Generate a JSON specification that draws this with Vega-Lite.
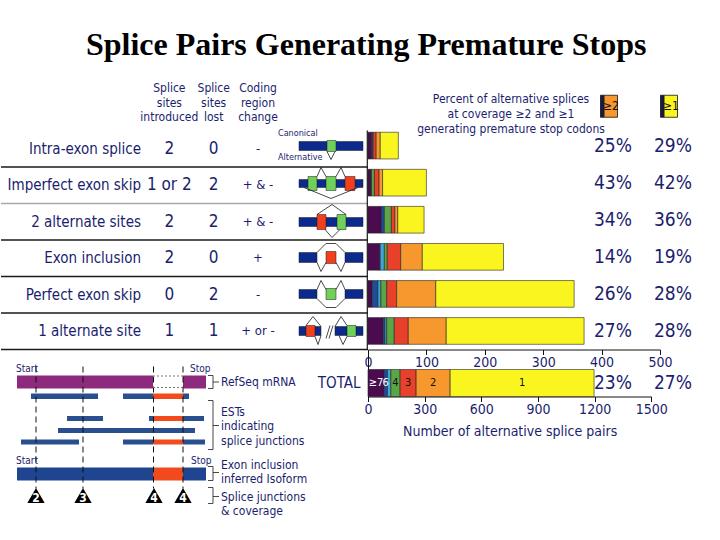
{
  "$schema": "https://vega.github.io/schema/vega-lite/v6.json",
  "background": "white",
  "padding": {"top": 28, "left": 0, "right": 0, "bottom": 0},
  "spacing": 0,
  "bounds": "flush",
  "title": {"text": "Splice Pairs Generating Premature Stops", "font": "Liberation Serif", "fontWeight": "bold", "fontSize": 32, "color": "black", "anchor": "middle", "offset": 20.5, "dx": 20},
  "config": {"view": {"stroke": null}, "axis": {"grid": false, "labelFlush": false}, "text": {"font": "DejaVu Sans Condensed", "color": "#1b1e6e"}},
  "resolve": {"scale": {"color": "independent"}},
  "hconcat": [
    {
      "width": 367,
      "height": 445.5,
      "resolve": {"scale": {"x": "independent", "y": "independent"}},
      "layer": [
        {
          "data": {"name": "table", "values": [
            {"row": "header", "col": "introduced", "text": "Splice\nsites\nintroduced"},
            {"row": "header", "col": "lost", "text": "Splice\nsites\nlost"},
            {"row": "header", "col": "change", "text": "Coding\nregion\nchange"},
            {"row": "Intra-exon splice", "col": "label", "text": "Intra-exon splice"},
            {"row": "Intra-exon splice", "col": "introduced", "text": "2"},
            {"row": "Intra-exon splice", "col": "lost", "text": "0"},
            {"row": "Intra-exon splice", "col": "change", "text": "-"},
            {"row": "Imperfect exon skip", "col": "label", "text": "Imperfect exon skip"},
            {"row": "Imperfect exon skip", "col": "introduced", "text": "1 or 2"},
            {"row": "Imperfect exon skip", "col": "lost", "text": "2"},
            {"row": "Imperfect exon skip", "col": "change", "text": "+ & -"},
            {"row": "2 alternate sites", "col": "label", "text": "2 alternate sites"},
            {"row": "2 alternate sites", "col": "introduced", "text": "2"},
            {"row": "2 alternate sites", "col": "lost", "text": "2"},
            {"row": "2 alternate sites", "col": "change", "text": "+ & -"},
            {"row": "Exon inclusion", "col": "label", "text": "Exon inclusion"},
            {"row": "Exon inclusion", "col": "introduced", "text": "2"},
            {"row": "Exon inclusion", "col": "lost", "text": "0"},
            {"row": "Exon inclusion", "col": "change", "text": "+"},
            {"row": "Perfect exon skip", "col": "label", "text": "Perfect exon skip"},
            {"row": "Perfect exon skip", "col": "introduced", "text": "0"},
            {"row": "Perfect exon skip", "col": "lost", "text": "2"},
            {"row": "Perfect exon skip", "col": "change", "text": "-"},
            {"row": "1 alternate site", "col": "label", "text": "1 alternate site"},
            {"row": "1 alternate site", "col": "introduced", "text": "1"},
            {"row": "1 alternate site", "col": "lost", "text": "1"},
            {"row": "1 alternate site", "col": "change", "text": "+ or -"}
          ]},
          "encoding": {
            "y": {"field": "row", "type": "nominal", "axis": null,
                  "scale": {"type": "band", "domain": ["header", "Intra-exon splice", "Imperfect exon skip", "2 alternate sites", "Exon inclusion", "Perfect exon skip", "1 alternate site"], "range": [0, 255.5], "paddingInner": 0, "paddingOuter": 0}},
            "x": {"field": "col", "type": "nominal", "axis": null, "scale": {"type": "point", "domain": ["label", "introduced", "lost", "change"], "range": [124, 257], "padding": 0}}
          },
          "layer": [
            {
              "transform": [{"filter": "datum.row == 'header'"}],
              "mark": {"type": "text", "lineBreak": "\n", "lineHeight": 14.5, "fontSize": 12, "baseline": "alphabetic", "dy": -20, "align": "center"},
              "encoding": {"text": {"field": "text"}}
            },
            {
              "transform": [{"filter": "datum.col == 'label'"}],
              "mark": {"type": "text", "fontSize": 15, "align": "right", "dx": 16, "baseline": "middle"},
              "encoding": {"text": {"field": "text"}}
            },
            {
              "transform": [{"filter": "datum.row != 'header' && (datum.col == 'introduced' || datum.col == 'lost')"}],
              "mark": {"type": "text", "fontSize": 17, "align": "center", "baseline": "middle"},
              "encoding": {"text": {"field": "text"}}
            },
            {
              "transform": [{"filter": "datum.row != 'header' && datum.col == 'change'"}],
              "mark": {"type": "text", "fontSize": 13, "align": "center", "baseline": "middle"},
              "encoding": {"text": {"field": "text"}}
            }
          ]
        },
        {
          "data": {"name": "table"},
          "transform": [{"filter": "datum.col == 'label' && datum.row != 'Imperfect exon skip'"}],
          "mark": {"type": "rule", "color": "#1a1a1a", "strokeWidth": 1.3},
          "encoding": {"y": {"field": "row", "type": "nominal", "bandPosition": 1, "axis": null,
                  "scale": {"type": "band", "domain": ["header", "Intra-exon splice", "Imperfect exon skip", "2 alternate sites", "Exon inclusion", "Perfect exon skip", "1 alternate site"], "range": [0, 255.5], "paddingInner": 0, "paddingOuter": 0}}}
        },
        {
          "data": {"name": "table"},
          "transform": [{"filter": "datum.col == 'label' && datum.row == 'Imperfect exon skip'"}],
          "mark": {"type": "rule", "color": "#a8a8a8", "strokeWidth": 1.3},
          "encoding": {"y": {"field": "row", "type": "nominal", "bandPosition": 1, "axis": null,
                  "scale": {"type": "band", "domain": ["header", "Intra-exon splice", "Imperfect exon skip", "2 alternate sites", "Exon inclusion", "Perfect exon skip", "1 alternate site"], "range": [0, 255.5], "paddingInner": 0, "paddingOuter": 0}}}
        },
        {
          "data": {"values": [
            {"part": "exon", "x1": 298, "x2": 362, "y1": 142, "y2": 151},
            {"part": "alt", "x1": 326, "x2": 335, "y1": 141, "y2": 152},
            {"part": "exon", "x1": 298, "x2": 362, "y1": 180, "y2": 188},
            {"part": "alt", "x1": 307, "x2": 316, "y1": 177, "y2": 191},
            {"part": "alt", "x1": 325, "x2": 335, "y1": 177, "y2": 191},
            {"part": "incl", "x1": 344, "x2": 354, "y1": 177, "y2": 191},
            {"part": "exon", "x1": 298, "x2": 362, "y1": 218, "y2": 227},
            {"part": "incl", "x1": 316, "x2": 325, "y1": 215, "y2": 230},
            {"part": "alt", "x1": 336, "x2": 345, "y1": 215, "y2": 230},
            {"part": "exon", "x1": 298, "x2": 316, "y1": 253, "y2": 263},
            {"part": "exon", "x1": 344, "x2": 362, "y1": 253, "y2": 263},
            {"part": "incl", "x1": 325, "x2": 335, "y1": 252, "y2": 264},
            {"part": "exon", "x1": 298, "x2": 316, "y1": 290, "y2": 299},
            {"part": "exon", "x1": 344, "x2": 362, "y1": 290, "y2": 299},
            {"part": "alt", "x1": 325, "x2": 335, "y1": 289, "y2": 300},
            {"part": "exon", "x1": 298, "x2": 305, "y1": 327, "y2": 336},
            {"part": "exon", "x1": 314, "x2": 320, "y1": 327, "y2": 336},
            {"part": "incl", "x1": 305, "x2": 314, "y1": 326, "y2": 337},
            {"part": "exon", "x1": 334, "x2": 346, "y1": 327, "y2": 336},
            {"part": "exon", "x1": 355, "x2": 362, "y1": 327, "y2": 336},
            {"part": "alt", "x1": 346, "x2": 355, "y1": 326, "y2": 337}
          ]},
          "mark": {"type": "rect", "stroke": "#1a1a1a", "strokeWidth": 0.5},
          "encoding": {
            "x": {"field": "x1", "type": "quantitative", "axis": null, "scale": {"domain": [0, 367], "zero": false, "nice": false}},
            "x2": {"field": "x2"},
            "y": {"field": "y1", "type": "quantitative", "axis": null, "scale": {"domain": [94.5, 540], "zero": false, "nice": false, "reverse": true}},
            "y2": {"field": "y2"},
            "color": {"field": "part", "type": "nominal", "legend": null, "scale": {"domain": ["exon", "alt", "incl", "refseq", "est", "estexon", "iso"], "range": ["#0b2a8c", "#6fd05a", "#f3401c", "#8e2a7e", "#2a4f8f", "#f24a1c", "#1f4590"]}}
          }
        },
        {
          "data": {"values": [
            {"p": "a", "o": 1, "x": 326, "y": 152}, {"p": "a", "o": 2, "x": 330, "y": 160}, {"p": "a", "o": 3, "x": 334, "y": 152},
            {"p": "b", "o": 1, "x": 316, "y": 177}, {"p": "b", "o": 2, "x": 320, "y": 168}, {"p": "b", "o": 3, "x": 325, "y": 177},
            {"p": "c", "o": 1, "x": 335, "y": 177}, {"p": "c", "o": 2, "x": 340, "y": 168}, {"p": "c", "o": 3, "x": 344, "y": 177},
            {"p": "d", "o": 1, "x": 303, "y": 188}, {"p": "d", "o": 2, "x": 330, "y": 199}, {"p": "d", "o": 3, "x": 357, "y": 188},
            {"p": "e", "o": 1, "x": 316, "y": 215}, {"p": "e", "o": 2, "x": 331, "y": 205}, {"p": "e", "o": 3, "x": 345, "y": 215},
            {"p": "f", "o": 1, "x": 324, "y": 230}, {"p": "f", "o": 2, "x": 331, "y": 238}, {"p": "f", "o": 3, "x": 339, "y": 230},
            {"p": "g", "o": 1, "x": 316, "y": 253}, {"p": "g", "o": 2, "x": 325, "y": 244}, {"p": "g", "o": 3, "x": 335, "y": 244}, {"p": "g", "o": 4, "x": 344, "y": 253},
            {"p": "h", "o": 1, "x": 316, "y": 263}, {"p": "h", "o": 2, "x": 320, "y": 272}, {"p": "h", "o": 3, "x": 325, "y": 263},
            {"p": "i", "o": 1, "x": 335, "y": 263}, {"p": "i", "o": 2, "x": 340, "y": 272}, {"p": "i", "o": 3, "x": 344, "y": 263},
            {"p": "j", "o": 1, "x": 316, "y": 290}, {"p": "j", "o": 2, "x": 320, "y": 281}, {"p": "j", "o": 3, "x": 325, "y": 290},
            {"p": "k", "o": 1, "x": 335, "y": 290}, {"p": "k", "o": 2, "x": 340, "y": 281}, {"p": "k", "o": 3, "x": 344, "y": 290},
            {"p": "l", "o": 1, "x": 316, "y": 299}, {"p": "l", "o": 2, "x": 325, "y": 308}, {"p": "l", "o": 3, "x": 335, "y": 308}, {"p": "l", "o": 4, "x": 344, "y": 299},
            {"p": "m", "o": 1, "x": 305, "y": 326}, {"p": "m", "o": 2, "x": 312, "y": 317}, {"p": "m", "o": 3, "x": 320, "y": 327},
            {"p": "n", "o": 1, "x": 314, "y": 337}, {"p": "n", "o": 2, "x": 317, "y": 345}, {"p": "n", "o": 3, "x": 320, "y": 336},
            {"p": "q", "o": 1, "x": 325, "y": 339}, {"p": "q", "o": 2, "x": 329, "y": 326},
            {"p": "r", "o": 1, "x": 328, "y": 339}, {"p": "r", "o": 2, "x": 332, "y": 326},
            {"p": "s", "o": 1, "x": 334, "y": 327}, {"p": "s", "o": 2, "x": 340, "y": 317}, {"p": "s", "o": 3, "x": 346, "y": 326},
            {"p": "t", "o": 1, "x": 338, "y": 336}, {"p": "t", "o": 2, "x": 342, "y": 345}, {"p": "t", "o": 3, "x": 346, "y": 337},
            {"p": "b1", "o": 1, "x": 207, "y": 376}, {"p": "b1", "o": 2, "x": 212, "y": 376}, {"p": "b1", "o": 3, "x": 212, "y": 389}, {"p": "b1", "o": 4, "x": 207, "y": 389},
            {"p": "t1", "o": 1, "x": 212, "y": 382.5}, {"p": "t1", "o": 2, "x": 218, "y": 382.5},
            {"p": "b2", "o": 1, "x": 207, "y": 401}, {"p": "b2", "o": 2, "x": 212, "y": 401}, {"p": "b2", "o": 3, "x": 212, "y": 450}, {"p": "b2", "o": 4, "x": 207, "y": 450},
            {"p": "t2", "o": 1, "x": 212, "y": 426}, {"p": "t2", "o": 2, "x": 218, "y": 426},
            {"p": "b3", "o": 1, "x": 207, "y": 467}, {"p": "b3", "o": 2, "x": 212, "y": 467}, {"p": "b3", "o": 3, "x": 212, "y": 481}, {"p": "b3", "o": 4, "x": 207, "y": 481},
            {"p": "t3", "o": 1, "x": 212, "y": 473}, {"p": "t3", "o": 2, "x": 218, "y": 473},
            {"p": "b4", "o": 1, "x": 207, "y": 488}, {"p": "b4", "o": 2, "x": 212, "y": 488}, {"p": "b4", "o": 3, "x": 212, "y": 504}, {"p": "b4", "o": 4, "x": 207, "y": 504},
            {"p": "t4", "o": 1, "x": 212, "y": 497}, {"p": "t4", "o": 2, "x": 218, "y": 497}
          ]},
          "mark": {"type": "line", "color": "#1a1a1a", "strokeWidth": 0.8},
          "encoding": {
            "x": {"field": "x", "type": "quantitative", "axis": null, "scale": {"domain": [0, 367], "zero": false, "nice": false}},
            "y": {"field": "y", "type": "quantitative", "axis": null, "scale": {"domain": [94.5, 540], "zero": false, "nice": false, "reverse": true}},
            "detail": {"field": "p"},
            "order": {"field": "o"}
          }
        },
        {
          "data": {"values": [
            {"x": 277, "y": 133, "t": "Canonical"},
            {"x": 277, "y": 157, "t": "Alternative"}
          ]},
          "mark": {"type": "text", "fontSize": 9, "align": "left", "baseline": "middle"},
          "encoding": {
            "x": {"field": "x", "type": "quantitative", "axis": null, "scale": {"domain": [0, 367], "zero": false, "nice": false}},
            "y": {"field": "y", "type": "quantitative", "axis": null, "scale": {"domain": [94.5, 540], "zero": false, "nice": false, "reverse": true}},
            "text": {"field": "t"}
          }
        },
        {
          "data": {"values": [{"x": 366.3, "y1": 131, "y2": 350}]},
          "mark": {"type": "rule", "color": "#1a1a1a", "strokeWidth": 1.2},
          "encoding": {
            "x": {"field": "x", "type": "quantitative", "axis": null, "scale": {"domain": [0, 367], "zero": false, "nice": false}},
            "y": {"field": "y1", "type": "quantitative", "axis": null, "scale": {"domain": [94.5, 540], "zero": false, "nice": false, "reverse": true}},
            "y2": {"field": "y2"}
          }
        },
        {
          "data": {"values": [
            {"part": "refseq", "x1": 16, "x2": 152, "y1": 376, "y2": 389},
            {"part": "refseq", "x1": 182, "x2": 205, "y1": 376, "y2": 389},
            {"part": "est", "x1": 30, "x2": 97, "y1": 394, "y2": 399.5},
            {"part": "est", "x1": 122, "x2": 152, "y1": 394, "y2": 399.5},
            {"part": "estexon", "x1": 152, "x2": 182, "y1": 394, "y2": 399.5},
            {"part": "est", "x1": 182, "x2": 188, "y1": 394, "y2": 399.5},
            {"part": "est", "x1": 66, "x2": 102, "y1": 416.5, "y2": 421.5},
            {"part": "est", "x1": 148, "x2": 152, "y1": 416.5, "y2": 421.5},
            {"part": "estexon", "x1": 152, "x2": 182, "y1": 416.5, "y2": 421.5},
            {"part": "est", "x1": 182, "x2": 203, "y1": 416.5, "y2": 421.5},
            {"part": "est", "x1": 57, "x2": 194, "y1": 428.5, "y2": 433.5},
            {"part": "est", "x1": 20, "x2": 78, "y1": 440, "y2": 445},
            {"part": "est", "x1": 122, "x2": 152, "y1": 440, "y2": 445},
            {"part": "estexon", "x1": 152, "x2": 182, "y1": 440, "y2": 445},
            {"part": "est", "x1": 182, "x2": 204, "y1": 440, "y2": 445},
            {"part": "iso", "x1": 16, "x2": 152, "y1": 468, "y2": 481},
            {"part": "estexon", "x1": 152, "x2": 182, "y1": 468, "y2": 481},
            {"part": "iso", "x1": 182, "x2": 205, "y1": 468, "y2": 481}
          ]},
          "mark": {"type": "rect"},
          "encoding": {
            "x": {"field": "x1", "type": "quantitative", "axis": null, "scale": {"domain": [0, 367], "zero": false, "nice": false}},
            "x2": {"field": "x2"},
            "y": {"field": "y1", "type": "quantitative", "axis": null, "scale": {"domain": [94.5, 540], "zero": false, "nice": false, "reverse": true}},
            "y2": {"field": "y2"},
            "color": {"field": "part", "type": "nominal", "legend": null, "scale": {"domain": ["exon", "alt", "incl", "refseq", "est", "estexon", "iso"], "range": ["#0b2a8c", "#6fd05a", "#f3401c", "#8e2a7e", "#2a4f8f", "#f24a1c", "#1f4590"]}}
          }
        },
        {
          "data": {"values": [
            {"x": 35, "y1": 367, "y2": 489},
            {"x": 82, "y1": 367, "y2": 489},
            {"x": 152.5, "y1": 367, "y2": 489},
            {"x": 182, "y1": 367, "y2": 489}
          ]},
          "mark": {"type": "rule", "color": "#111", "strokeWidth": 1, "strokeDash": [6, 4]},
          "encoding": {
            "x": {"field": "x", "type": "quantitative", "axis": null, "scale": {"domain": [0, 367], "zero": false, "nice": false}},
            "y": {"field": "y1", "type": "quantitative", "axis": null, "scale": {"domain": [94.5, 540], "zero": false, "nice": false, "reverse": true}},
            "y2": {"field": "y2"}
          }
        },
        {
          "data": {"values": [
            {"x1": 152, "x2": 182, "y": 376.5},
            {"x1": 152, "x2": 182, "y": 388}
          ]},
          "mark": {"type": "rule", "color": "#777", "strokeWidth": 1, "strokeDash": [2, 2]},
          "encoding": {
            "x": {"field": "x1", "type": "quantitative", "axis": null, "scale": {"domain": [0, 367], "zero": false, "nice": false}},
            "x2": {"field": "x2"},
            "y": {"field": "y", "type": "quantitative", "axis": null, "scale": {"domain": [94.5, 540], "zero": false, "nice": false, "reverse": true}}
          }
        },
        {
          "data": {"values": [
            {"x": 35, "y": 496, "n": "2"},
            {"x": 82, "y": 496, "n": "3"},
            {"x": 153, "y": 496, "n": "4"},
            {"x": 182, "y": 496, "n": "4"}
          ]},
          "mark": {"type": "point", "shape": "triangle-up", "filled": true, "color": "#000", "size": 300, "opacity": 1},
          "encoding": {
            "x": {"field": "x", "type": "quantitative", "axis": null, "scale": {"domain": [0, 367], "zero": false, "nice": false}},
            "y": {"field": "y", "type": "quantitative", "axis": null, "scale": {"domain": [94.5, 540], "zero": false, "nice": false, "reverse": true}}
          }
        },
        {
          "data": {"values": [
            {"x": 35, "y": 496, "n": "2"},
            {"x": 82, "y": 496, "n": "3"},
            {"x": 153, "y": 496, "n": "4"},
            {"x": 182, "y": 496, "n": "4"}
          ]},
          "mark": {"type": "text", "color": "white", "fontWeight": "bold", "fontSize": 12, "baseline": "middle", "dy": 2},
          "encoding": {
            "x": {"field": "x", "type": "quantitative", "axis": null, "scale": {"domain": [0, 367], "zero": false, "nice": false}},
            "y": {"field": "y", "type": "quantitative", "axis": null, "scale": {"domain": [94.5, 540], "zero": false, "nice": false, "reverse": true}},
            "text": {"field": "n"}
          }
        },
        {
          "data": {"values": [
            {"x": 15, "y": 369, "t": "Start"},
            {"x": 189, "y": 369, "t": "Stop"},
            {"x": 15, "y": 461, "t": "Start"},
            {"x": 190, "y": 461, "t": "Stop"}
          ]},
          "mark": {"type": "text", "fontSize": 10, "align": "left", "baseline": "middle"},
          "encoding": {
            "x": {"field": "x", "type": "quantitative", "axis": null, "scale": {"domain": [0, 367], "zero": false, "nice": false}},
            "y": {"field": "y", "type": "quantitative", "axis": null, "scale": {"domain": [94.5, 540], "zero": false, "nice": false, "reverse": true}},
            "text": {"field": "t"}
          }
        },
        {
          "data": {"values": [
            {"x": 220, "y": 382.5, "t": "RefSeq mRNA"},
            {"x": 220, "y": 412, "t": "ESTs"},
            {"x": 220, "y": 426, "t": "indicating"},
            {"x": 220, "y": 441, "t": "splice junctions"},
            {"x": 220, "y": 465, "t": "Exon inclusion"},
            {"x": 220, "y": 479, "t": "inferred Isoform"},
            {"x": 220, "y": 497, "t": "Splice junctions"},
            {"x": 220, "y": 511, "t": "& coverage"}
          ]},
          "mark": {"type": "text", "fontSize": 12, "align": "left", "baseline": "middle"},
          "encoding": {
            "x": {"field": "x", "type": "quantitative", "axis": null, "scale": {"domain": [0, 367], "zero": false, "nice": false}},
            "y": {"field": "y", "type": "quantitative", "axis": null, "scale": {"domain": [94.5, 540], "zero": false, "nice": false, "reverse": true}},
            "text": {"field": "t"}
          }
        }
      ]
    },
    {
      "width": 292,
      "height": 302.5,
      "title": {"text": ["Percent of alternative splices", "at coverage ≥2 and ≥1", "generating premature stop codons"], "font": "DejaVu Sans Condensed", "fontSize": 12, "fontWeight": "normal", "color": "#1b1e6e", "lineHeight": 15, "anchor": "middle", "offset": -42, "dx": -3},
      "resolve": {"scale": {"x": "independent", "y": "independent"}, "axis": {"x": "independent", "y": "independent"}},
      "layer": [
        {
          "data": {"values": [
            {"cat": "Intra-exon splice", "coverage": "≥7", "level": 7, "count": 6},
            {"cat": "Intra-exon splice", "coverage": "6", "level": 6, "count": 2},
            {"cat": "Intra-exon splice", "coverage": "4", "level": 4, "count": 1},
            {"cat": "Intra-exon splice", "coverage": "3", "level": 3, "count": 5},
            {"cat": "Intra-exon splice", "coverage": "2", "level": 2, "count": 7},
            {"cat": "Intra-exon splice", "coverage": "1", "level": 1, "count": 31},
            {"cat": "Imperfect exon skip", "coverage": "≥7", "level": 7, "count": 5},
            {"cat": "Imperfect exon skip", "coverage": "6", "level": 6, "count": 1},
            {"cat": "Imperfect exon skip", "coverage": "4", "level": 4, "count": 5},
            {"cat": "Imperfect exon skip", "coverage": "3", "level": 3, "count": 8},
            {"cat": "Imperfect exon skip", "coverage": "2", "level": 2, "count": 6},
            {"cat": "Imperfect exon skip", "coverage": "1", "level": 1, "count": 75},
            {"cat": "2 alternate sites", "coverage": "≥7", "level": 7, "count": 23},
            {"cat": "2 alternate sites", "coverage": "6", "level": 6, "count": 5},
            {"cat": "2 alternate sites", "coverage": "4", "level": 4, "count": 12},
            {"cat": "2 alternate sites", "coverage": "3", "level": 3, "count": 6},
            {"cat": "2 alternate sites", "coverage": "2", "level": 2, "count": 5},
            {"cat": "2 alternate sites", "coverage": "1", "level": 1, "count": 45},
            {"cat": "Exon inclusion", "coverage": "≥7", "level": 7, "count": 20},
            {"cat": "Exon inclusion", "coverage": "6", "level": 6, "count": 1},
            {"cat": "Exon inclusion", "coverage": "5", "level": 5, "count": 7},
            {"cat": "Exon inclusion", "coverage": "4", "level": 4, "count": 5},
            {"cat": "Exon inclusion", "coverage": "3", "level": 3, "count": 23},
            {"cat": "Exon inclusion", "coverage": "2", "level": 2, "count": 37},
            {"cat": "Exon inclusion", "coverage": "1", "level": 1, "count": 139},
            {"cat": "Perfect exon skip", "coverage": "≥7", "level": 7, "count": 7},
            {"cat": "Perfect exon skip", "coverage": "6", "level": 6, "count": 10},
            {"cat": "Perfect exon skip", "coverage": "5", "level": 5, "count": 5},
            {"cat": "Perfect exon skip", "coverage": "4", "level": 4, "count": 10},
            {"cat": "Perfect exon skip", "coverage": "3", "level": 3, "count": 17},
            {"cat": "Perfect exon skip", "coverage": "2", "level": 2, "count": 67},
            {"cat": "Perfect exon skip", "coverage": "1", "level": 1, "count": 237},
            {"cat": "1 alternate site", "coverage": "≥7", "level": 7, "count": 26},
            {"cat": "1 alternate site", "coverage": "6", "level": 6, "count": 3},
            {"cat": "1 alternate site", "coverage": "5", "level": 5, "count": 3},
            {"cat": "1 alternate site", "coverage": "4", "level": 4, "count": 13},
            {"cat": "1 alternate site", "coverage": "3", "level": 3, "count": 24},
            {"cat": "1 alternate site", "coverage": "2", "level": 2, "count": 65},
            {"cat": "1 alternate site", "coverage": "1", "level": 1, "count": 236}
          ]},
          "mark": {"type": "bar", "stroke": "#222", "strokeWidth": 0.6},
          "encoding": {
            "y": {"field": "cat", "type": "nominal", "axis": null, "scale": {"type": "band", "domain": ["header", "Intra-exon splice", "Imperfect exon skip", "2 alternate sites", "Exon inclusion", "Perfect exon skip", "1 alternate site"], "range": [-4, 255.5], "paddingInner": 0.28, "paddingOuter": 0.14}},
            "x": {"field": "count", "type": "quantitative", "stack": "zero", "scale": {"domain": [0, 500], "nice": false},
                  "axis": {"orient": "bottom", "offset": -47, "values": [0, 100, 200, 300, 400, 500], "labelFlush": false, "title": null, "labelFont": "DejaVu Sans Condensed", "labelFontSize": 14, "labelColor": "#1b1e6e", "domainColor": "#111", "tickColor": "#111", "tickSize": 5, "labelPadding": 1}},
            "color": {"field": "coverage", "type": "nominal", "legend": null, "scale": {"domain": ["≥7", "6", "5", "4", "3", "2", "1"], "range": ["#4b0c4f", "#1f4d9b", "#3fa6d8", "#5aa646", "#e8412b", "#f7982f", "#fbf51f"]}},
            "order": {"field": "level", "sort": "descending"}
          }
        },
        {
          "data": {"values": [
            {"cat": "Intra-exon splice", "cov": "≥2", "pct": "25%"},
            {"cat": "Intra-exon splice", "cov": "≥1", "pct": "29%"},
            {"cat": "Imperfect exon skip", "cov": "≥2", "pct": "43%"},
            {"cat": "Imperfect exon skip", "cov": "≥1", "pct": "42%"},
            {"cat": "2 alternate sites", "cov": "≥2", "pct": "34%"},
            {"cat": "2 alternate sites", "cov": "≥1", "pct": "36%"},
            {"cat": "Exon inclusion", "cov": "≥2", "pct": "14%"},
            {"cat": "Exon inclusion", "cov": "≥1", "pct": "19%"},
            {"cat": "Perfect exon skip", "cov": "≥2", "pct": "26%"},
            {"cat": "Perfect exon skip", "cov": "≥1", "pct": "28%"},
            {"cat": "1 alternate site", "cov": "≥2", "pct": "27%"},
            {"cat": "1 alternate site", "cov": "≥1", "pct": "28%"}
          ]},
          "mark": {"type": "text", "fontSize": 19, "align": "center", "baseline": "middle", "font": "DejaVu Sans Condensed"},
          "encoding": {
            "y": {"field": "cat", "type": "nominal", "axis": null, "scale": {"type": "band", "domain": ["header", "Intra-exon splice", "Imperfect exon skip", "2 alternate sites", "Exon inclusion", "Perfect exon skip", "1 alternate site"], "range": [-4, 255.5], "paddingInner": 0.28, "paddingOuter": 0.14}},
            "x": {"field": "cov", "type": "nominal", "axis": null, "scale": {"type": "point", "domain": ["≥2", "≥1"], "range": [245, 305], "padding": 0}},
            "text": {"field": "pct"}
          }
        },
        {
          "data": {"name": "icons", "values": [
            {"cat": "header", "cov": "≥2", "coverage": "2"},
            {"cat": "header", "cov": "≥1", "coverage": "1"}
          ]},
          "mark": {"type": "rect", "width": 17, "height": 22, "yOffset": -6, "xOffset": -4, "stroke": "#111", "strokeWidth": 0.8},
          "encoding": {
            "y": {"field": "cat", "type": "nominal", "axis": null, "scale": {"type": "band", "domain": ["header", "Intra-exon splice", "Imperfect exon skip", "2 alternate sites", "Exon inclusion", "Perfect exon skip", "1 alternate site"], "range": [0, 255.5], "paddingInner": 0.26, "paddingOuter": 0.13}},
            "x": {"field": "cov", "type": "nominal", "axis": null, "scale": {"type": "point", "domain": ["≥2", "≥1"], "range": [245, 305], "padding": 0}},
            "color": {"field": "coverage", "type": "nominal", "legend": null, "scale": {"domain": ["≥7", "6", "5", "4", "3", "2", "1"], "range": ["#4b0c4f", "#1f4d9b", "#3fa6d8", "#5aa646", "#e8412b", "#f7982f", "#fbf51f"]}}
          }
        },
        {
          "data": {"name": "icons"},
          "mark": {"type": "rect", "width": 4, "height": 22, "yOffset": -6, "xOffset": -10.5, "color": "#1a1a3a"},
          "encoding": {
            "y": {"field": "cat", "type": "nominal", "axis": null, "scale": {"type": "band", "domain": ["header", "Intra-exon splice", "Imperfect exon skip", "2 alternate sites", "Exon inclusion", "Perfect exon skip", "1 alternate site"], "range": [0, 255.5], "paddingInner": 0.26, "paddingOuter": 0.13}},
            "x": {"field": "cov", "type": "nominal", "axis": null, "scale": {"type": "point", "domain": ["≥2", "≥1"], "range": [245, 305], "padding": 0}}
          }
        },
        {
          "data": {"name": "icons"},
          "mark": {"type": "text", "fontSize": 12, "color": "#111", "yOffset": -6, "xOffset": -2, "baseline": "middle"},
          "encoding": {
            "y": {"field": "cat", "type": "nominal", "axis": null, "scale": {"type": "band", "domain": ["header", "Intra-exon splice", "Imperfect exon skip", "2 alternate sites", "Exon inclusion", "Perfect exon skip", "1 alternate site"], "range": [0, 255.5], "paddingInner": 0.26, "paddingOuter": 0.13}},
            "x": {"field": "cov", "type": "nominal", "axis": null, "scale": {"type": "point", "domain": ["≥2", "≥1"], "range": [245, 305], "padding": 0}},
            "text": {"field": "cov"}
          }
        },
        {
          "data": {"name": "total", "values": [
            {"cat": "TOTAL", "coverage": "≥7", "level": 7, "count": 85},
            {"cat": "TOTAL", "coverage": "6", "level": 6, "count": 18},
            {"cat": "TOTAL", "coverage": "5", "level": 5, "count": 18},
            {"cat": "TOTAL", "coverage": "4", "level": 4, "count": 49},
            {"cat": "TOTAL", "coverage": "3", "level": 3, "count": 85},
            {"cat": "TOTAL", "coverage": "2", "level": 2, "count": 180},
            {"cat": "TOTAL", "coverage": "1", "level": 1, "count": 762}
          ]},
          "mark": {"type": "bar", "stroke": "#222", "strokeWidth": 0.6},
          "encoding": {
            "y": {"field": "cat", "type": "nominal", "scale": {"type": "band", "domain": ["TOTAL"], "range": [255.5, 302.5], "paddingInner": 0, "paddingOuter": 0.37, "align": 1},
                  "axis": {"title": null, "ticks": false, "domain": true, "domainColor": "#111", "labelFont": "DejaVu Sans Condensed", "labelFontSize": 15, "labelColor": "#1b1e6e", "labelPadding": 8}},
            "x": {"field": "count", "type": "quantitative", "stack": "zero", "scale": {"domain": [0, 1500], "range": [0, 283.3], "nice": false},
                  "axis": {"orient": "bottom", "values": [0, 300, 600, 900, 1200, 1500], "format": "d", "labelFlush": false, "title": "Number of alternative splice pairs", "titleFont": "DejaVu Sans Condensed", "titleFontWeight": "normal", "titleFontSize": 14, "titleColor": "#1b1e6e", "titlePadding": 8, "labelFont": "DejaVu Sans Condensed", "labelFontSize": 14, "labelColor": "#1b1e6e", "domainColor": "#111", "tickColor": "#111", "tickSize": 5, "labelPadding": 1}},
            "color": {"field": "coverage", "type": "nominal", "legend": null, "scale": {"domain": ["≥7", "6", "5", "4", "3", "2", "1"], "range": ["#4b0c4f", "#1f4d9b", "#3fa6d8", "#5aa646", "#e8412b", "#f7982f", "#fbf51f"]}},
            "order": {"field": "level", "sort": "descending"}
          }
        },
        {
          "data": {"name": "total"},
          "transform": [
            {"stack": "count", "groupby": ["cat"], "sort": [{"field": "level", "order": "descending"}], "as": ["s0", "s1"]},
            {"calculate": "(datum.s0 + datum.s1) / 2", "as": "mid"},
            {"filter": "datum.coverage != '5'"}
          ],
          "mark": {"type": "text", "fontSize": 11, "baseline": "middle", "align": "center"},
          "encoding": {
            "y": {"field": "cat", "type": "nominal", "axis": null, "scale": {"type": "band", "domain": ["TOTAL"], "range": [255.5, 302.5], "paddingInner": 0, "paddingOuter": 0.37, "align": 1}},
            "x": {"field": "mid", "type": "quantitative", "axis": null, "scale": {"domain": [0, 1500], "range": [0, 283.3], "nice": false}},
            "text": {"field": "coverage"},
            "color": {"condition": {"test": "datum.level >= 6", "value": "white"}, "value": "#111"}
          }
        },
        {
          "data": {"values": [
            {"cat": "TOTAL", "cov": "≥2", "pct": "23%"},
            {"cat": "TOTAL", "cov": "≥1", "pct": "27%"}
          ]},
          "mark": {"type": "text", "fontSize": 19, "align": "center", "baseline": "middle", "font": "DejaVu Sans Condensed"},
          "encoding": {
            "y": {"field": "cat", "type": "nominal", "axis": null, "scale": {"type": "band", "domain": ["TOTAL"], "range": [255.5, 302.5], "paddingInner": 0, "paddingOuter": 0.37, "align": 1}},
            "x": {"field": "cov", "type": "nominal", "axis": null, "scale": {"type": "point", "domain": ["≥2", "≥1"], "range": [245, 305], "padding": 0}},
            "text": {"field": "pct"}
          }
        }
      ]
    }
  ]
}
